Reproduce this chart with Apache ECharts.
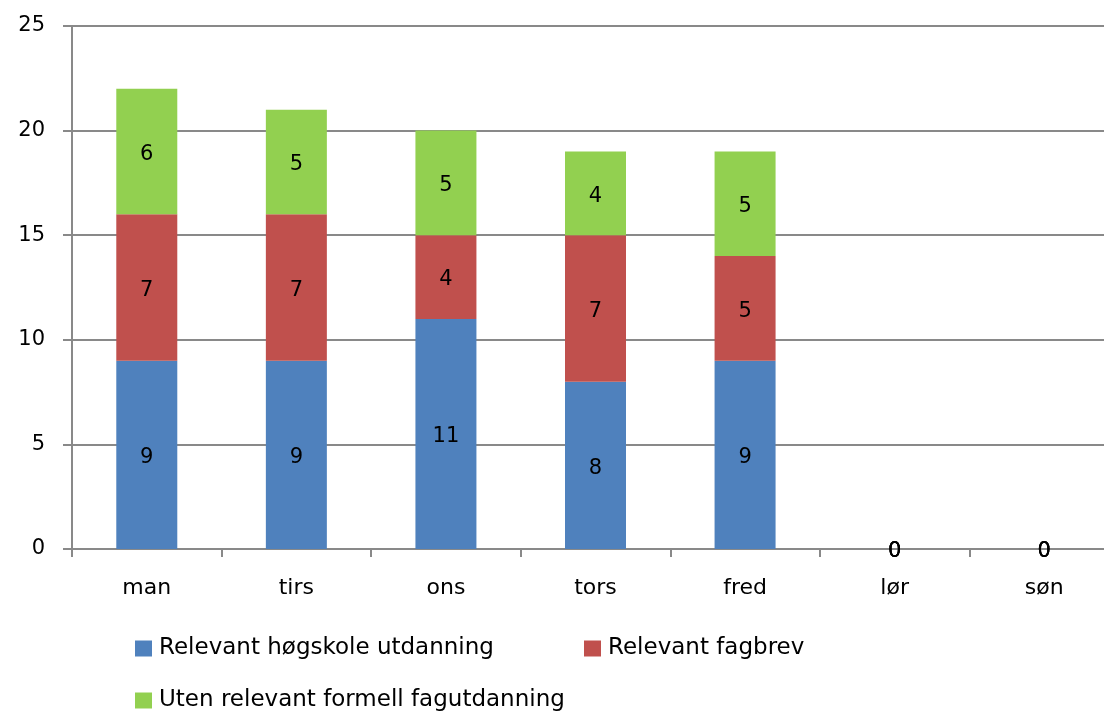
<!DOCTYPE html>
<html><head><meta charset="utf-8">
<script src="https://cdn.jsdelivr.net/npm/echarts@6/dist/echarts.min.js"></script>
<style>html,body{margin:0;padding:0;background:#fff}#c{width:1104px;height:711px}</style>
</head><body><div id="c"></div>
<script>
const categories = ['man','tirs','ons','tors','fred','lør','søn'];
const seriesNames = ['Relevant høgskole utdanning','Relevant fagbrev','Uten relevant formell fagutdanning'];
const hogskole = [9,9,11,8,9,0,0];
const fagbrev = [7,7,4,7,5,0,0];
const uten = [6,5,5,4,5,0,0];
const yTicks = [0,5,10,15,20,25];
const colors = ['#4F81BD','#C0504D','#92D050'];
const FONT = 'DejaVu Sans';
const FS = 21;
const LFS = 23;
const chart = echarts.init(document.getElementById('c'));
const lbl = {show:true, position:'inside', color:'#000', fontSize:FS, fontFamily:FONT, offset:[0,3]};
const mk = (name, data, i) => ({
  name, type:'bar', stack:'a', data, barWidth:61,
  itemStyle:{color:colors[i]}, label:lbl
});
const leg = (names, left, top) => ({
  data:names, left, top, itemWidth:17, itemHeight:16, icon:'rect',
  textStyle:{fontSize:LFS, fontFamily:FONT, color:'#000', padding:[0,0,0,2]}
});
chart.setOption({
  animation:false,
  textStyle:{fontFamily:FONT},
  grid:{left:72, top:26, width:1047, height:523, containLabel:false, outerBoundsMode:'none'},
  xAxis:{type:'category', data:categories,
    axisLine:{lineStyle:{color:'#898989', width:2}},
    axisTick:{show:true, length:8, lineStyle:{color:'#898989', width:2}},
    axisLabel:{color:'#000', fontSize:22, fontFamily:FONT, margin:28}},
  yAxis:{type:'value', min:yTicks[0], max:yTicks[yTicks.length-1], interval:5,
    axisLine:{show:true, lineStyle:{color:'#898989', width:2}},
    axisTick:{show:true, inside:false, length:9, lineStyle:{color:'#898989', width:2}},
    splitLine:{lineStyle:{color:'#898989', width:2}},
    axisLabel:{color:'#000', fontSize:FS, fontFamily:FONT, margin:27}},
  legend:[
    leg([seriesNames[0]], 130, 632),
    leg([seriesNames[1]], 579, 632),
    leg([seriesNames[2]], 130, 684)
  ],
  series:[mk(seriesNames[0],hogskole,0), mk(seriesNames[1],fagbrev,1), mk(seriesNames[2],uten,2)]
});
</script></body></html>
